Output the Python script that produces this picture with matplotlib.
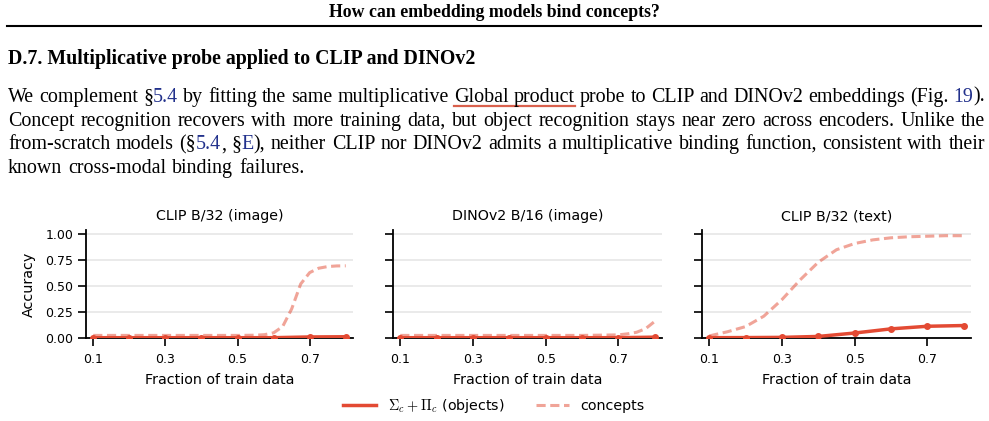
import re
import matplotlib
matplotlib.use("Agg")
import matplotlib.pyplot as plt
from matplotlib.lines import Line2D

plt.rcParams["mathtext.fontset"] = "cm"

W, H = 989, 421

header = "How can embedding models bind concepts?"
section = "D.7. Multiplicative probe applied to CLIP and DINOv2"
# {..} = link (blue), [..] = underlined
paragraph = [
    "We complement §{5.4} by fitting the same multiplicative [Global product] probe to CLIP and DINOv2 embeddings (Fig. {19}).",
    "Concept recognition recovers with more training data, but object recognition stays near zero across encoders. Unlike the",
    "from-scratch models (§{5.4}, §{E}), neither CLIP nor DINOv2 admits a multiplicative binding function, consistent with their",
    "known cross-modal binding failures.",
]

titles = ["CLIP B/32 (image)", "DINOv2 B/16 (image)", "CLIP B/32 (text)"]
frac = [0.1, 0.2, 0.3, 0.4, 0.5, 0.6, 0.7, 0.8]
obj_clip_img = [0.003, 0.003, 0.003, 0.003, 0.003, 0.003, 0.010, 0.012]
obj_dino_img = [0.003, 0.003, 0.003, 0.003, 0.003, 0.003, 0.003, 0.008]
obj_clip_txt = [0.003, 0.004, 0.006, 0.015, 0.048, 0.088, 0.113, 0.120]

cx_clip_img = [0.10, 0.20, 0.30, 0.40, 0.50, 0.55, 0.575, 0.60, 0.625, 0.65, 0.675, 0.70, 0.725, 0.75, 0.775, 0.80]
cy_clip_img = [0.025, 0.025, 0.025, 0.025, 0.025, 0.027, 0.032, 0.05, 0.11, 0.28, 0.52, 0.63, 0.672, 0.688, 0.694, 0.695]
cx_dino_img = [0.10, 0.20, 0.30, 0.40, 0.50, 0.60, 0.70, 0.725, 0.75, 0.775, 0.80]
cy_dino_img = [0.025, 0.025, 0.025, 0.025, 0.025, 0.025, 0.03, 0.04, 0.055, 0.09, 0.16]
cx_clip_txt = [0.10, 0.15, 0.20, 0.25, 0.30, 0.35, 0.40, 0.45, 0.50, 0.55, 0.60, 0.65, 0.70, 0.75, 0.80]
cy_clip_txt = [0.02, 0.06, 0.11, 0.21, 0.37, 0.56, 0.73, 0.85, 0.91, 0.945, 0.965, 0.975, 0.98, 0.985, 0.985]

objects = [obj_clip_img, obj_dino_img, obj_clip_txt]
concept_x = [cx_clip_img, cx_dino_img, cx_clip_txt]
concept_y = [cy_clip_img, cy_dino_img, cy_clip_txt]

red = "#e34a33"
link = "#22318c"
serif = "Liberation Serif"

fig = plt.figure(figsize=(W / 100, H / 100), dpi=100)
renderer = fig.canvas.get_renderer()


def fx(x):
    return x / W


def fy(y):
    return 1 - y / H


def width_of(t):
    return t.get_window_extent(renderer).width


def fitted(x, y, s, target, **kw):
    t = fig.text(fx(x), fy(y), s, fontsize=10, **kw)
    t.set_fontsize(10 * target / width_of(t))
    return t


fitted(494, 17, header, 331, ha="center", va="baseline", family=serif, weight="bold")
fig.add_artist(Line2D([fx(7), fx(981)], [fy(26), fy(26)], color="black", lw=1.5))
fitted(8, 64, section, 469, ha="left", va="baseline", family=serif, weight="bold")

# paragraph, justified
plain = [re.sub(r"[\{\}\[\]]", "", s) for s in paragraph[:3]]
sizes = []
for s in plain:
    probe = fig.text(0, 0, s, fontsize=10, family=serif)
    sizes.append(10 * 977 / width_of(probe))
    probe.remove()
fs = min(sizes)
space = fs * 100 / 72 * 0.25

baselines = [101.7, 125.7, 149.3, 173.3]
for i, line in enumerate(paragraph):
    words = []
    for w in line.split(" "):
        ul_start, ul_end = w.startswith("["), w.endswith("]")
        w = w.strip("[]")
        arts = []
        for s in re.split(r"(\{[^}]*\})", w):
            if not s:
                continue
            color = link if s.startswith("{") else "black"
            t = fig.text(0, fy(baselines[i]), s.strip("{}"), fontsize=fs, family=serif,
                         color=color, va="baseline", ha="left")
            arts.append((t, width_of(t)))
        words.append((arts, ul_start, ul_end))
    total = sum(wd for arts, _, _ in words for _, wd in arts)
    gap = (977 - total) / (len(words) - 1) if i < len(paragraph) - 1 else space * 1.2
    x = 8
    ul_x0 = None
    for arts, ul_start, ul_end in words:
        if ul_start:
            ul_x0 = x
        for t, wd in arts:
            t.set_x(fx(x))
            x += wd
        if ul_end:
            fig.add_artist(Line2D([fx(ul_x0), fx(x)], [fy(106), fy(106)], color="#d9604c", lw=1.6))
        x += gap

# charts
lefts = [86, 393, 702]
rights = [353, 662, 971]
for k in range(3):
    ax = fig.add_axes([fx(lefts[k]), fy(338), (rights[k] - lefts[k]) / W, 108 / H])
    ax.plot(concept_x[k], concept_y[k], ls=(0, (3.0, 1.5)), lw=2.2, color=red, alpha=0.5, zorder=3)
    ax.plot(frac, objects[k], "-o", lw=2.5, ms=4, color=red, zorder=4)
    ax.set_xlim(0.08, 0.82)
    ax.set_ylim(0, 1.04)
    ax.set_xticks([0.1, 0.3, 0.5, 0.7])
    ax.set_yticks([0, 0.25, 0.5, 0.75, 1.0])
    ax.grid(axis="y", color="#e6e6e6", lw=1.2)
    ax.set_axisbelow(True)
    for side in ["top", "right"]:
        ax.spines[side].set_visible(False)
    for side in ["left", "bottom"]:
        ax.spines[side].set_linewidth(1.3)
    ax.tick_params(labelsize=9, length=5.5, width=1.2)
    ax.tick_params(axis="x", pad=5)
    ax.set_title(titles[k], fontsize=10.3, pad=7)
    ax.set_xlabel("Fraction of train data", fontsize=10.3, labelpad=5)
    if k == 0:
        ax.set_ylabel("Accuracy", fontsize=10.3, labelpad=7)
    else:
        ax.set_yticklabels([])

handles = [
    Line2D([], [], color=red, lw=2.5),
    Line2D([], [], color=red, lw=2.2, alpha=0.5, ls=(0, (3.0, 1.5))),
]
fig.legend(handles, [r"$\Sigma_c + \Pi_c$ (objects)", "concepts"], loc="center",
           bbox_to_anchor=(fx(494), fy(406)), ncol=2, frameon=False, fontsize=10.3,
           handlelength=2.3, columnspacing=2.2, handletextpad=0.8)

fig.savefig("out.png", dpi=100)
